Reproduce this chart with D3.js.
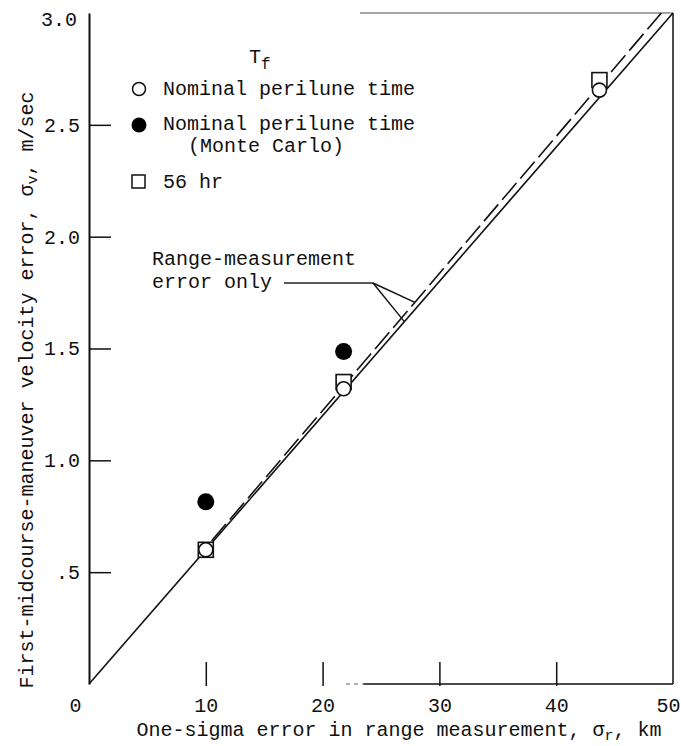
<!DOCTYPE html>
<html>
<head>
<meta charset="utf-8">
<script src="https://cdn.jsdelivr.net/npm/d3@7"></script>
<style>
  body { margin: 0; background: #fff; }
  svg text { font-family: "Liberation Mono", "DejaVu Sans Mono", monospace; fill: #111; }
</style>
</head>
<body>
<script>
'use strict';

// range-measurement error, km
const rangeErr = [10, 21.8, 43.7];
// nominal perilune time (open circles)
const nominalVals = [0.60, 1.32, 2.655];
// nominal perilune time, Monte Carlo (filled circles)
const monteX = [10, 21.8];
const monteVals = [0.815, 1.487];
// 56 hr (squares)
const hr56Vals = [0.60, 1.35, 2.70];
// fitted line and range-measurement-only line
const solidLine = [[0, 0], [50, 3.0]];
const rangeOnlyLine = [[10.5, 0.64], [49.0, 3.0]];

const xTicks = [0, 10, 20, 30, 40, 50];
const yTicks = [0.5, 1.0, 1.5, 2.0, 2.5, 3.0];

const width = 681, height = 746;
const fs = '20px';
const svg = d3.select('body').append('svg')
  .attr('width', width)
  .attr('height', height);

const x = d3.scaleLinear().domain([0, 50]).range([89, 673]);
const y = d3.scaleLinear().domain([0, 3]).range([684, 13]);

// y axis, ticks pointing inwards
const yAxis = d3.axisLeft(y)
  .tickValues(yTicks)
  .tickSizeInner(-22)
  .tickSizeOuter(0)
  .tickPadding(9)
  .tickFormat(d => d === 0.5 ? '.5' : d3.format('.1f')(d));
const gy = svg.append('g')
  .attr('transform', 'translate(' + x(0) + ',0)')
  .call(yAxis);
gy.select('.domain').attr('stroke', '#111').attr('stroke-width', 2);
gy.selectAll('.tick line').attr('stroke', '#111').attr('stroke-width', 1.5);
gy.selectAll('.tick').filter(d => d === 3).select('line').remove();
gy.selectAll('.tick').filter(d => d === 3).select('text').attr('dy', '0.6em').attr('x', -12);
gy.selectAll('.tick text').style('font-size', fs);

// x axis, ticks pointing upward
const xAxis = d3.axisBottom(x)
  .tickValues(xTicks)
  .tickSizeInner(-22)
  .tickSizeOuter(0)
  .tickPadding(14);
const gx = svg.append('g')
  .attr('transform', 'translate(0,' + y(0) + ')')
  .call(xAxis);
gx.select('.domain').remove();
gx.selectAll('.tick line').attr('stroke', '#111').attr('stroke-width', 1.5)
  .attr('y1', 2);
gx.selectAll('.tick').filter(d => d === 0 || d === 50).select('line').remove();
gx.selectAll('.tick').filter(d => d === 0).select('text').attr('x', -14);
gx.selectAll('.tick').filter(d => d === 50).select('text').attr('x', -5);
gx.selectAll('.tick text').style('font-size', fs);

// partial frame (top, right, bottom)
svg.append('line')
  .attr('x1', x(23.2)).attr('x2', x(50))
  .attr('y1', y(3)).attr('y2', y(3))
  .attr('stroke', '#888').attr('stroke-width', 1.5);
svg.append('line')
  .attr('x1', x(50)).attr('x2', x(50))
  .attr('y1', y(3)).attr('y2', y(0))
  .attr('stroke', '#111').attr('stroke-width', 1.5);
svg.append('line')
  .attr('x1', x(22.0)).attr('x2', x(23.5))
  .attr('y1', y(0)).attr('y2', y(0))
  .attr('stroke', '#666').attr('stroke-width', 1.2)
  .attr('stroke-dasharray', '4,4');
svg.append('line')
  .attr('x1', x(23.5)).attr('x2', x(50))
  .attr('y1', y(0)).attr('y2', y(0))
  .attr('stroke', '#111').attr('stroke-width', 1.5);

// lines
const line = d3.line().x(d => x(d[0])).y(d => y(d[1]));
svg.append('path')
  .datum(solidLine)
  .attr('d', line)
  .attr('fill', 'none')
  .attr('stroke', '#111')
  .attr('stroke-width', 1.6);
svg.append('path')
  .datum(rangeOnlyLine)
  .attr('d', line)
  .attr('fill', 'none')
  .attr('stroke', '#111')
  .attr('stroke-width', 1.6)
  .attr('stroke-dasharray', '22,6');

// 56 hr squares
const sq = 15;
svg.selectAll('.sq')
  .data(rangeErr.map((d, i) => [d, hr56Vals[i]]))
  .enter()
  .append('rect')
    .attr('x', d => x(d[0]) - sq / 2)
    .attr('y', d => y(d[1]) - sq / 2)
    .attr('width', sq)
    .attr('height', sq)
    .attr('fill', '#fff')
    .attr('stroke', '#111')
    .attr('stroke-width', 1.6);

// nominal perilune time, open circles
svg.selectAll('.open')
  .data(rangeErr.map((d, i) => [d, nominalVals[i]]))
  .enter()
  .append('circle')
    .attr('cx', d => x(d[0]))
    .attr('cy', d => y(d[1]))
    .attr('r', 7)
    .attr('fill', '#fff')
    .attr('stroke', '#111')
    .attr('stroke-width', 1.6);

// Monte Carlo, filled circles
svg.selectAll('.filled')
  .data(monteX.map((d, i) => [d, monteVals[i]]))
  .enter()
  .append('circle')
    .attr('cx', d => x(d[0]))
    .attr('cy', d => y(d[1]))
    .attr('r', 8.5)
    .attr('fill', '#000');

// legend
let tf = svg.append('text').attr('x', 249).attr('y', 63).style('font-size', fs);
tf.append('tspan').text('T');
tf.append('tspan').attr('dy', 6).style('font-size', '16px').text('f');

svg.append('circle').attr('cx', 139).attr('cy', 89).attr('r', 6.5)
  .attr('fill', '#fff').attr('stroke', '#111').attr('stroke-width', 1.5);
svg.append('text').attr('x', 163).attr('y', 95).style('font-size', fs)
  .text('Nominal perilune time');

svg.append('circle').attr('cx', 139).attr('cy', 125).attr('r', 7.5)
  .attr('fill', '#000');
svg.append('text').attr('x', 163).attr('y', 130).style('font-size', fs)
  .text('Nominal perilune time');
svg.append('text').attr('x', 188).attr('y', 152).style('font-size', fs)
  .text('(Monte Carlo)');

svg.append('rect').attr('x', 132).attr('y', 175).attr('width', 13).attr('height', 13)
  .attr('fill', '#fff').attr('stroke', '#111').attr('stroke-width', 1.5);
svg.append('text').attr('x', 163).attr('y', 188).style('font-size', fs)
  .text('56 hr');

// annotation
svg.append('text').attr('x', 152).attr('y', 265).style('font-size', fs)
  .text('Range-measurement');
svg.append('text').attr('x', 152).attr('y', 288).style('font-size', fs)
  .text('error only');
const ax = 373, ay = 283;
svg.append('line').attr('x1', 284).attr('x2', ax).attr('y1', ay).attr('y2', ay)
  .attr('stroke', '#222').attr('stroke-width', 1.3);
const dashTipX = 27.9;
const dashTipY = rangeOnlyLine[0][1] + (dashTipX - rangeOnlyLine[0][0]) *
  (rangeOnlyLine[1][1] - rangeOnlyLine[0][1]) / (rangeOnlyLine[1][0] - rangeOnlyLine[0][0]);
svg.append('line').attr('x1', ax).attr('y1', ay)
  .attr('x2', x(dashTipX)).attr('y2', y(dashTipY))
  .attr('stroke', '#111').attr('stroke-width', 1.4);
const solidTipX = 27.0;
svg.append('line').attr('x1', ax).attr('y1', ay)
  .attr('x2', x(solidTipX)).attr('y2', y(solidTipX * 0.06))
  .attr('stroke', '#111').attr('stroke-width', 1.4);

// axis titles
const xt = svg.append('text')
  .attr('x', 399).attr('y', 736)
  .attr('text-anchor', 'middle')
  .style('font-size', fs);
xt.append('tspan').text('One-sigma error in range measurement, σ');
xt.append('tspan').attr('dy', 4).style('font-size', '15px').text('r');
xt.append('tspan').attr('dy', -4).text(', km');

const yt = svg.append('text')
  .attr('transform', 'translate(33, 390)rotate(-90)')
  .attr('text-anchor', 'middle')
  .style('font-size', fs);
yt.append('tspan').text('First-midcourse-maneuver velocity error, σ');
yt.append('tspan').attr('dy', 4).style('font-size', '15px').text('v');
yt.append('tspan').attr('dy', -4).text(', m/sec');
</script>
</body>
</html>
